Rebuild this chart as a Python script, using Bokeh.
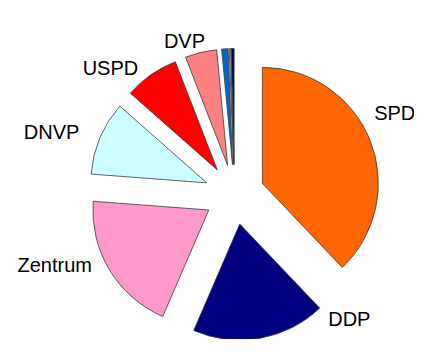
import math
from bokeh.plotting import figure
from bokeh.models import Range1d, ColumnDataSource
from bokeh.core.properties import value
from bokeh.embed import file_html
from bokeh.resources import INLINE

# Data: 1919 National Assembly election, vote share (%)
parties = ["SPD", "DDP", "Zentrum", "DNVP", "USPD", "DVP", "BBB", "DHP", "Other"]
shares = [37.9, 18.6, 19.7, 10.3, 7.6, 4.4, 0.9, 0.2, 0.4]
colors = ["#ff6600", "#000080", "#ff99cc", "#ccffff", "#ff0000", "#ff8080",
          "#0066cc", "#c0c4d8", "#000040"]
labels = ["SPD", "DDP", "Zentrum", "DNVP", "USPD", "DVP", "", "", ""]

# Layout (pixels): pie radius, explode offset, label polar placement
R = 116
OFF = 30
label_angle_deg = [27.1, -47.2, 201.3, 161.0, 134.5, 108.1, 0, 0, 0]
label_radius = [180, 169, 193, 193.5, 177, 161, 0, 0, 0]

total = sum(shares)
starts, ends, xs, ys = [], [], [], []
cum = 0.0
for s in shares:
    a0 = math.pi / 2 - 2 * math.pi * cum / total
    cum += s
    a1 = math.pi / 2 - 2 * math.pi * cum / total
    mid = (a0 + a1) / 2
    starts.append(a0)
    ends.append(a1)
    xs.append(OFF * math.cos(mid))
    ys.append(OFF * math.sin(mid))

src = ColumnDataSource(dict(x=xs, y=ys, start=starts, end=ends, color=colors))

p = figure(width=414, height=339, output_backend="svg", toolbar_location=None,
           x_range=Range1d(-234, 180), y_range=Range1d(-145, 194),
           min_border=0)
p.axis.visible = False
p.grid.visible = False
p.outline_line_color = None
p.background_fill_color = "white"
p.border_fill_color = "white"

p.wedge(x="x", y="y", radius=R, start_angle="start", end_angle="end",
        direction="clock", fill_color="color", line_color="#3a3a3a",
        line_width=0.8, source=src)

lx, ly, lt = [], [], []
for lab, ang, rad in zip(labels, label_angle_deg, label_radius):
    if lab:
        lx.append(rad * math.cos(math.radians(ang)))
        ly.append(rad * math.sin(math.radians(ang)))
        lt.append(lab)

p.text(x=lx, y=ly, text=lt, text_font=value("Liberation Sans"),
       text_font_size="20px", text_color="black", text_align="center",
       text_baseline="middle")

open("out.html", "w").write(file_html(p, INLINE))
